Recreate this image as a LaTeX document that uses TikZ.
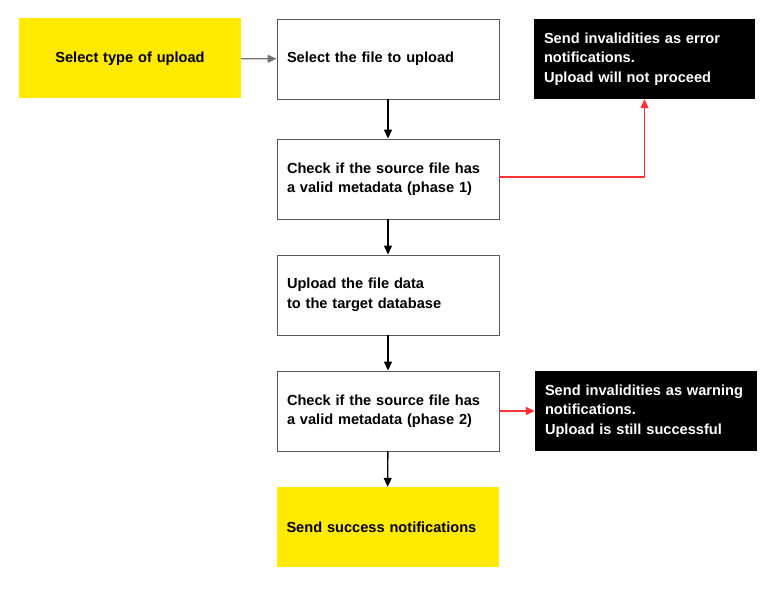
\documentclass[tikz,border=0pt]{standalone}
\usepackage{fontspec}
\setmainfont{Liberation Sans}
\usetikzlibrary{arrows.meta}
\definecolor{ylw}{HTML}{FFEA00}
\definecolor{bord}{HTML}{5A5A5A}
\definecolor{redl}{HTML}{FF3333}
\begin{document}
\begin{tikzpicture}[x=1pt,y=-1pt,
  every node/.style={font=\fontsize{14.6}{19.5}\selectfont\bfseries, inner xsep=10pt, inner ysep=0pt,
     minimum height=80pt, text width=202pt, align=left},
  whitebox/.style={draw=bord, line width=0.9pt, fill=white},
  yelbox/.style={fill=ylw},
  blkbox/.style={fill=black, text=white},
  flow/.style={line width=1.4pt, -{Triangle[width=8pt,length=9pt]}},
  grayflow/.style={line width=1.4pt, -{Triangle[width=8pt,length=9pt]}, color=gray!90!black},
  redflow/.style={line width=1.4pt, -{Triangle[width=8pt,length=9pt]}, color=redl}]
\useasboundingbox (0,0) rectangle (777,591);
\node[yelbox, align=center] (type) at (130,58.5) {Select type of upload};
\node[whitebox] (file) at (388,59) {Select the file to upload};
\node[blkbox, minimum width=221pt, text width=201pt] (err) at (644.5,59) {Send invalidities as error notifications.\\Upload will not proceed};
\node[whitebox] (p1) at (388,179) {Check if the source file has\\a valid metadata (phase 1)};
\node[whitebox] (up) at (388,295) {Upload the file data\\to the target database};
\node[whitebox] (p2) at (388,411) {Check if the source file has\\a valid metadata (phase 2)};
\node[blkbox] (warn) at (646,411) {Send invalidities as warning notifications.\\Upload is still successful};
\node[yelbox] (succ) at (387.5,527) {Send success notifications};
\draw[grayflow] (type) -- (file);
\draw[flow] (file) -- (p1);
\draw[flow] (p1) -- (up);
\draw[flow] (up) -- (p2);
\draw[flow] (p2) -- (succ);
\draw[redflow] ([yshift=2pt]p1.east) -| (err.south);
\draw[redflow] (p2) -- (warn);
\end{tikzpicture}
\end{document}
